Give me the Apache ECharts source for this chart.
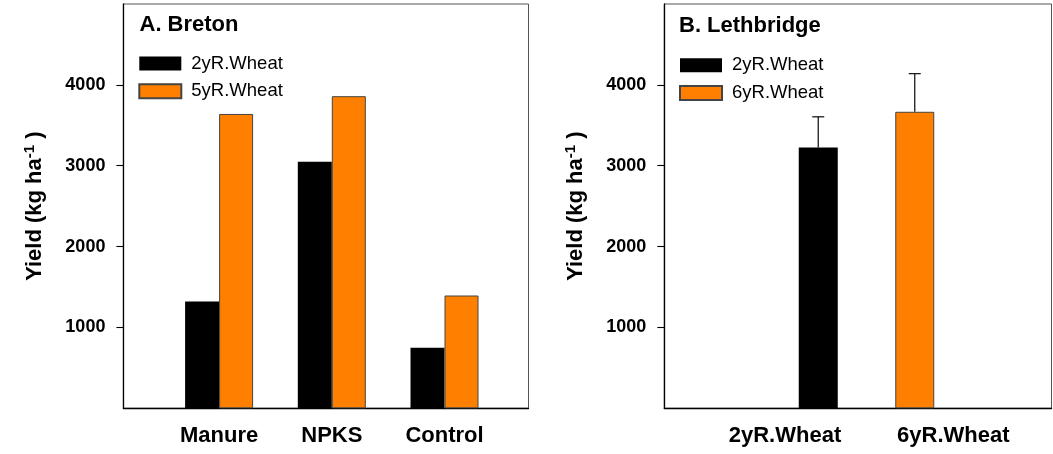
<!DOCTYPE html>
<html>
<head>
<meta charset="utf-8">
<script src="https://cdn.jsdelivr.net/npm/echarts@6/dist/echarts.min.js"></script>
<style>
  html, body { margin: 0; padding: 0; background: #fff; }
  #chart { width: 1053px; height: 454px; }
</style>
</head>
<body>
<div id="chart"></div>
<script>
// Panel A: Breton
const categoriesA = ['Manure', 'NPKS', 'Control'];
const wheat2yA = [1320, 3050, 750];
const wheat5yA = [3640, 3860, 1395];

// Panel B: Lethbridge
const categoriesB = ['2yR.Wheat', '6yR.Wheat'];
const yieldB = [3225, 3667];
const errorB = [380, 472];

// Shared y axis
const yTicks = [1000, 2000, 3000, 4000];
const yMin = 0, yMax = 5000, yStep = 1000;

const FONT = "'Liberation Sans', Arial, Helvetica, sans-serif";
const ORANGE = '#ff8000';

const chart = echarts.init(document.getElementById('chart'), null, { renderer: 'canvas' });

const TOP = 4, BOTTOM = 45.7;

function frameXAxis(gridIndex) {
  return {
    type: 'value', gridIndex, min: 0, max: 1,
    axisLine: { show: true, lineStyle: { color: '#000', width: 1.3 } },
    axisTick: { show: false }, axisLabel: { show: false }, splitLine: { show: false }
  };
}

function frameYAxis(gridIndex) {
  return {
    type: 'value', gridIndex, min: yMin, max: yMax, interval: yStep,
    axisLine: { show: true, lineStyle: { color: '#000', width: 1.3 } },
    axisTick: { show: true, inside: false, length: 7, customValues: yTicks,
                lineStyle: { color: '#000', width: 1.1 } },
    axisLabel: { show: true, customValues: yTicks, margin: 18,
                 formatter: (v) => String(v),
                 fontFamily: FONT, fontWeight: 'bold', fontSize: 18, color: '#000' },
    splitLine: { show: false },
    name: '{t|Yield (kg ha}{s|-1}{t| )}',
    nameLocation: 'middle', nameRotate: 90, nameGap: 75,
    nameTextStyle: {
      rich: {
        t: { fontFamily: FONT, fontWeight: 'bold', fontSize: 22, color: '#000', lineHeight: 26 },
        s: { fontFamily: FONT, fontWeight: 'bold', fontSize: 15, color: '#000', lineHeight: 15, verticalAlign: 'top' }
      }
    }
  };
}

function hiddenY(gridIndex) {
  return { type: 'value', gridIndex, min: yMin, max: yMax, show: false, splitLine: { show: false } };
}

const xLabelStyle = { fontFamily: FONT, fontWeight: 'bold', fontSize: 22, color: '#000', margin: 17 };

const legendBase = {
  orient: 'vertical', icon: 'rect', itemWidth: 42, itemHeight: 14, itemGap: 8.7,
  padding: 0, selectedMode: false,
  textStyle: { fontFamily: FONT, fontSize: 18.5, color: '#000', lineHeight: 14, padding: [0, 0, 0, 5] }
};

// Upper error whisker with a short cap, drawn from the bar top
function errorRender(params, api) {
  const x = api.value(0), v = api.value(1), e = api.value(2);
  const base = api.coord([x, v]);
  const top = api.coord([x, v + e]);
  const st = { stroke: '#1a1a1a', lineWidth: 1.3 };
  return {
    type: 'group',
    children: [
      { type: 'line', shape: { x1: base[0], y1: base[1], x2: top[0], y2: top[1] }, style: st },
      { type: 'line', shape: { x1: top[0] - 6, y1: top[1], x2: top[0] + 6, y2: top[1] }, style: st }
    ]
  };
}

const option = {
  backgroundColor: '#fff',
  animation: false,
  grid: [
    { left: 123.4, right: 524.5, top: TOP, bottom: BOTTOM, show: true, borderColor: '#555', borderWidth: 1, backgroundColor: 'transparent' },
    { left: 162.75, width: 338.1, top: TOP, bottom: BOTTOM },
    { left: 664.3, right: 1.5, top: TOP, bottom: BOTTOM, show: true, borderColor: '#555', borderWidth: 1, backgroundColor: 'transparent' },
    { left: 770, width: 193, top: TOP, bottom: BOTTOM },
    { left: 700.85, width: 336.6, top: TOP, bottom: BOTTOM }
  ],
  xAxis: [
    frameXAxis(0),
    { type: 'category', gridIndex: 1, data: categoriesA,
      axisLine: { show: false }, axisTick: { show: false }, axisLabel: xLabelStyle },
    frameXAxis(2),
    { type: 'category', gridIndex: 3, data: categoriesB, show: false },
    { type: 'category', gridIndex: 4, data: categoriesB,
      axisLine: { show: false }, axisTick: { show: false }, axisLabel: xLabelStyle }
  ],
  yAxis: [frameYAxis(0), hiddenY(1), frameYAxis(2), hiddenY(3), hiddenY(4)],
  legend: [
    Object.assign({}, legendBase, { left: 138.3, top: 54, data: ['2yR.Wheat', '5yR.Wheat'] }),
    Object.assign({}, legendBase, { left: 679, top: 55.7, data: ['2yR.Wheat', '6yR.Wheat'] })
  ],
  graphic: [
    { type: 'text', left: 139.5, top: 14, style: { text: 'A. Breton', font: 'bold 22px ' + FONT, fill: '#000' } },
    { type: 'text', left: 679, top: 15, style: { text: 'B. Lethbridge', font: 'bold 22px ' + FONT, fill: '#000' } }
  ],
  series: [
    { name: '2yR.Wheat', type: 'bar', xAxisIndex: 1, yAxisIndex: 1, data: wheat2yA,
      barWidth: 34, barGap: '0%',
      itemStyle: { color: '#000', borderColor: '#000', borderWidth: 0 } },
    { name: '5yR.Wheat', type: 'bar', xAxisIndex: 1, yAxisIndex: 1, data: wheat5yA,
      barWidth: 34, barGap: '0%',
      itemStyle: { color: ORANGE, borderColor: '#444', borderWidth: 1 } },
    { name: '2yR.Wheat', type: 'bar', xAxisIndex: 3, yAxisIndex: 3,
      data: yieldB.map((v, i) => (i === 0 ? v : '-')),
      barWidth: 39, barGap: '-100%',
      itemStyle: { color: '#000', borderColor: '#000', borderWidth: 0 } },
    { name: '6yR.Wheat', type: 'bar', xAxisIndex: 3, yAxisIndex: 3,
      data: yieldB.map((v, i) => (i === 1 ? v : '-')),
      barWidth: 39, barGap: '-100%',
      itemStyle: { color: ORANGE, borderColor: '#444', borderWidth: 1 } },
    { type: 'custom', name: 'error', xAxisIndex: 3, yAxisIndex: 3, z: 1,
      data: yieldB.map((v, i) => [i, v, errorB[i]]),
      renderItem: errorRender }
  ]
};

chart.setOption(option);
</script>
</body>
</html>
